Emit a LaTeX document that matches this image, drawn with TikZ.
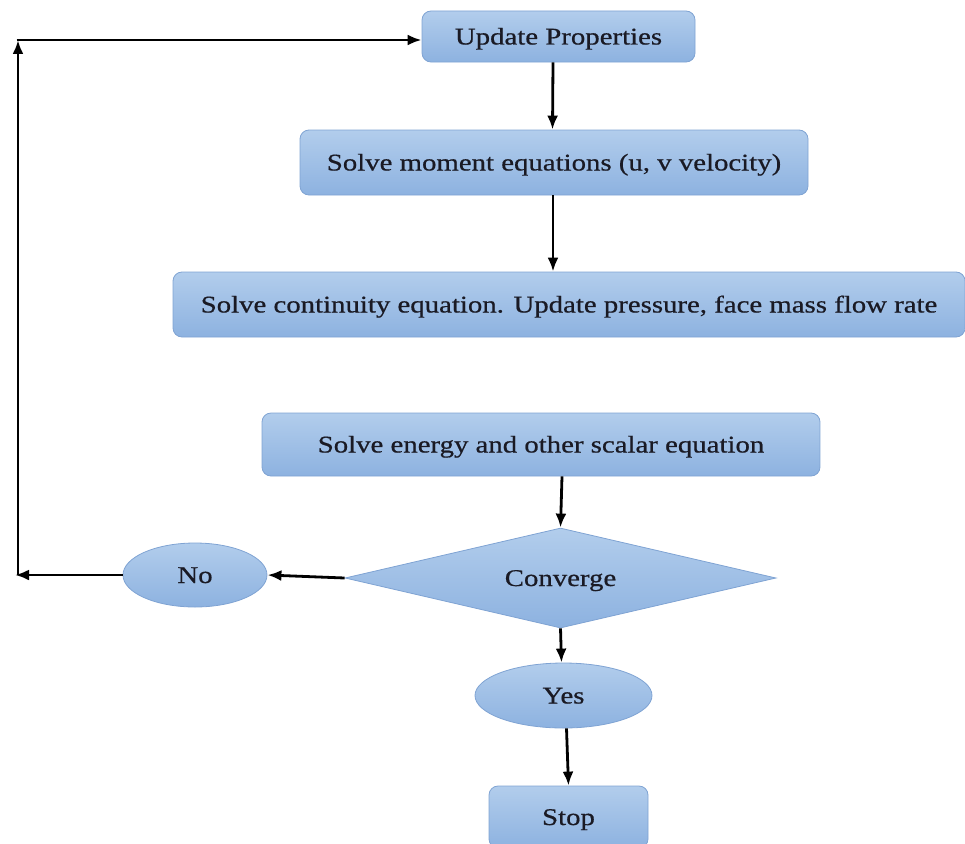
\documentclass[tikz,border=0pt]{standalone}
\usepackage{fontspec}
\setmainfont{Liberation Serif}[FakeStretch=1.2,FakeBold=0.6]
\usetikzlibrary{shapes.geometric,arrows.meta}
\definecolor{edgeblue}{HTML}{7FA3D3}
\definecolor{topblue}{HTML}{B2CDEC}
\definecolor{botblue}{HTML}{8DB2E0}
\definecolor{txt}{HTML}{1A1A24}
\tikzset{
  x=1pt, y=-1pt,
  base/.style={draw=edgeblue, line width=0.8pt, top color=topblue, bottom color=botblue,
    text=txt, font=\fontsize{24}{28}\selectfont, inner sep=0pt,
    text height=16pt, text depth=-2pt},
  stepbox/.style={base, rectangle, rounded corners=9pt},
  oval/.style={base, ellipse},
  decide/.style={base, diamond, aspect=4.3},
  arr/.style={line width=2.8pt, -{Latex[length=14pt,width=11pt]}},
}
\begin{document}
\begin{tikzpicture}
\useasboundingbox (0,0) rectangle (965,843);
\node[stepbox, minimum width=273pt, minimum height=51pt] (up) at (558.5,36.5) {Update Properties};
\node[stepbox, minimum width=508pt, minimum height=65pt] (mom) at (554,162.5) {Solve moment equations (u, v velocity)};
\node[stepbox, minimum width=792pt, minimum height=65pt] (cont) at (569,304.5) {Solve continuity equation. Update pressure, face mass flow rate};
\node[stepbox, minimum width=558pt, minimum height=63pt] (en) at (541,444.5) {Solve energy and other scalar equation};
\node[decide, minimum width=431pt, minimum height=100pt] (conv) at (560.5,578) {Converge};
\node[oval, minimum width=144pt, minimum height=64pt] (no) at (195,575) {No};
\node[oval, minimum width=177pt, minimum height=65pt] (yes) at (563.5,695.5) {Yes};
\node[stepbox, minimum width=159pt, minimum height=62pt] (stop) at (568.5,817) {Stop};
\coordinate (lb) at (15,575);
\coordinate (lbb) at (18,575);
\coordinate (lt) at (18,40);

\draw[arr] ([xshift=-5.5pt]up.south) -- ([xshift=-1.5pt]mom.north);
\draw[arr] ([xshift=-1pt]mom.south) -- ([xshift=-16pt]cont.north);
\draw[arr] ([xshift=21pt]en.south) -- (conv.north);
\draw[arr] (conv.west) -- (no.east);
\draw[arr] (no.west) -- (lb);
\draw[arr] (lbb) -- (lt);
\draw[arr] ([xshift=-1.4pt]lt) -- (lt -| up.west);
\draw[arr] (conv.south) -- ([xshift=-2pt]yes.north);
\draw[arr] ([xshift=3pt]yes.south) -- (stop.north);
\end{tikzpicture}
\end{document}
